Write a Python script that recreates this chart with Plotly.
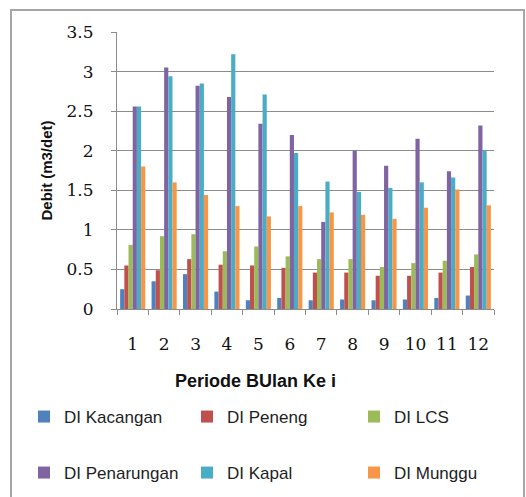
import plotly.graph_objects as go

months = [str(i) for i in range(1, 13)]

kacangan = [0.25, 0.35, 0.44, 0.22, 0.11, 0.14, 0.11, 0.12, 0.11, 0.12, 0.14, 0.17]
peneng = [0.55, 0.49, 0.63, 0.56, 0.55, 0.52, 0.46, 0.46, 0.42, 0.42, 0.46, 0.53]
lcs = [0.81, 0.92, 0.945, 0.73, 0.79, 0.665, 0.63, 0.63, 0.53, 0.58, 0.61, 0.69]
penarungan = [2.56, 3.05, 2.82, 2.68, 2.34, 2.20, 1.10, 2.00, 1.81, 2.15, 1.74, 2.32]
kapal = [2.56, 2.94, 2.85, 3.22, 2.71, 1.97, 1.61, 1.48, 1.53, 1.60, 1.66, 2.00]
munggu = [1.80, 1.60, 1.44, 1.30, 1.17, 1.30, 1.22, 1.19, 1.14, 1.28, 1.51, 1.31]

series_names = ["DI Kacangan", "DI Peneng", "DI LCS",
                "DI Penarungan", "DI Kapal", "DI Munggu"]
series_values = [kacangan, peneng, lcs, penarungan, kapal, munggu]
series_colors = ["#4F81BD", "#C0504D", "#9BBB59", "#8064A2", "#4BACC6", "#F79646"]

W, H = 526, 497
L, R, T, B = 117, 32, 32, 188
pw, ph = W - L - R, H - T - B


def px_x(x):
    return (x - L) / pw


def px_y(y):
    return (H - B - y) / ph


# legend grid: 3 columns x 2 rows, one legend box per entry
legend_cols = [24, 187, 354]
legend_rows = [417, 473]

fig = go.Figure()
legend_layouts = {}
for i, (name, vals, color) in enumerate(zip(series_names, series_values, series_colors)):
    key = "legend" if i == 0 else f"legend{i + 1}"
    fig.add_trace(go.Bar(
        x=months, y=vals, name=name, legend=key,
        marker=dict(color=color, line=dict(width=0)),
    ))
    legend_layouts[key] = dict(
        x=px_x(legend_cols[i % 3]), y=px_y(legend_rows[i // 3]),
        xanchor="left", yanchor="middle", orientation="h", itemwidth=30,
        font=dict(family="Liberation Sans", size=17, color="#1E1E1E"),
        bgcolor="rgba(0,0,0,0)",
    )

tick_font = dict(family="DejaVu Serif", size=17, color="#111111")

fig.update_layout(
    width=W, height=H,
    margin=dict(l=L, r=R, t=T, b=B, autoexpand=False),
    paper_bgcolor="white", plot_bgcolor="white",
    barmode="group", bargap=0.2, bargroupgap=0,
    font=dict(family="Liberation Sans", color="#111111"),
    xaxis=dict(
        type="category",
        showgrid=False,
        showline=True, linecolor="#8C8C8C", linewidth=1,
        ticks="outside", tickson="boundaries", ticklen=5, tickcolor="#8C8C8C",
        tickfont=tick_font,
        ticklabelstandoff=20,
    ),
    yaxis=dict(
        range=[0, 3.5], dtick=0.5,
        showgrid=True, gridcolor="#8C8C8C", gridwidth=1,
        showline=True, linecolor="#8C8C8C", linewidth=1,
        ticks="outside", ticklen=5, tickcolor="#8C8C8C",
        tickfont=tick_font,
        ticklabelstandoff=14,
        zeroline=False,
        title=dict(text="<b>Debit (m3/det)</b>",
                   font=dict(family="Liberation Sans", size=15, color="#111111"),
                   standoff=10),
    ),
    showlegend=True,
    annotations=[dict(
        text="<b>Periode BUlan Ke i</b>", x=px_x(255), y=px_y(381),
        xref="paper", yref="paper", showarrow=False,
        xanchor="center", yanchor="middle",
        font=dict(family="Liberation Sans", size=18, color="#111111"),
    )],
    shapes=[dict(
        type="rect", xref="paper", yref="paper",
        x0=px_x(11), x1=px_x(524), y0=px_y(505), y1=px_y(10),
        line=dict(color="#A6A6A6", width=2), fillcolor="rgba(0,0,0,0)",
        layer="below",
    )],
    **legend_layouts,
)

fig.write_html("out.html")
